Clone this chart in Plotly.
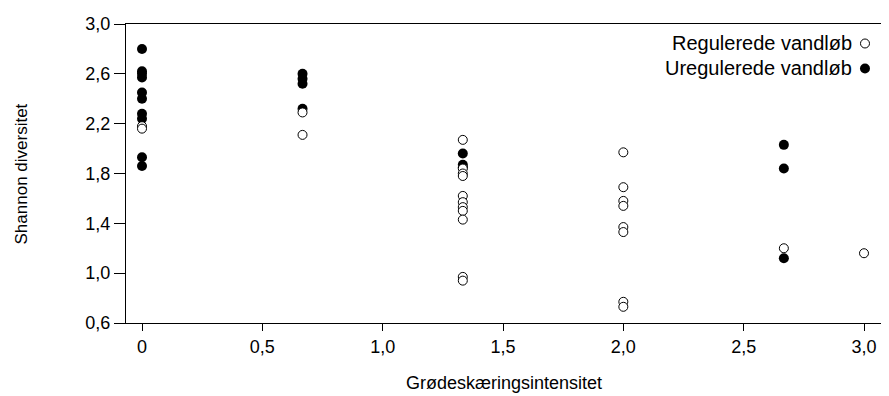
import plotly.graph_objects as go

# ---- data ----
reg_x = [0, 0,
         0.667, 0.667,
         1.333, 1.333, 1.333, 1.333, 1.333, 1.333, 1.333, 1.333, 1.333, 1.333, 1.333,
         2.0, 2.0, 2.0, 2.0, 2.0, 2.0, 2.0, 2.0,
         2.667,
         3.0]
reg_y = [2.18, 2.16,
         2.29, 2.11,
         2.07, 1.84, 1.80, 1.78, 1.62, 1.57, 1.53, 1.50, 1.43, 0.97, 0.94,
         1.97, 1.69, 1.58, 1.54, 1.37, 1.33, 0.77, 0.73,
         1.20,
         1.16]

ureg_x = [0, 0, 0, 0, 0, 0, 0, 0, 0, 0,
          0.667, 0.667, 0.667, 0.667,
          1.333, 1.333, 1.333,
          2.667, 2.667, 2.667]
ureg_y = [2.80, 2.62, 2.60, 2.57, 2.45, 2.40, 2.28, 2.24, 1.93, 1.86,
          2.60, 2.56, 2.52, 2.32,
          1.96, 1.87, 1.85,
          2.03, 1.84, 1.12]

x_tickvals = [0, 0.5, 1.0, 1.5, 2.0, 2.5, 3.0]
x_ticktext = ["0", "0,5", "1,0", "1,5", "2,0", "2,5", "3,0"]
y_tickvals = [0.6, 1.0, 1.4, 1.8, 2.2, 2.6, 3.0]
y_ticktext = ["0,6", "1,0", "1,4", "1,8", "2,2", "2,6", "3,0"]

series_names = ["Regulerede vandløb", "Uregulerede vandløb"]
x_title = "Grødeskæringsintensitet"
y_title = "Shannon diversitet"

FONT = "Liberation Sans, Arial, sans-serif"

fig = go.Figure()
fig.add_trace(go.Scatter(
    x=ureg_x, y=ureg_y, mode="markers", name=series_names[1],
    marker=dict(symbol="circle", size=10, color="black",
                line=dict(color="black", width=0)),
    showlegend=False))
fig.add_trace(go.Scatter(
    x=reg_x, y=reg_y, mode="markers", name=series_names[0],
    marker=dict(symbol="circle", size=9, color="white",
                line=dict(color="black", width=1)),
    showlegend=False))

# custom legend: text followed by a marker on the right
leg_text_x = 0.963
leg_mark_x = 0.9775
leg_y = [0.9348, 0.8512]
for name, y in zip(series_names, leg_y):
    fig.add_annotation(x=leg_text_x, y=y, xref="paper", yref="paper",
                       text=name, showarrow=False, xanchor="right",
                       yanchor="middle", font=dict(size=20, color="black", family=FONT))
fig.add_shape(type="circle", xref="paper", yref="paper",
              xsizemode="pixel", ysizemode="pixel",
              xanchor=leg_mark_x, yanchor=leg_y[0],
              x0=-4.5, x1=4.5, y0=-4.5, y1=4.5,
              line=dict(color="black", width=1), fillcolor="white")
fig.add_shape(type="circle", xref="paper", yref="paper",
              xsizemode="pixel", ysizemode="pixel",
              xanchor=leg_mark_x, yanchor=leg_y[1],
              x0=-5, x1=5, y0=-5, y1=5,
              line=dict(color="black", width=0), fillcolor="black")

# axis titles
fig.add_annotation(x=0.5, y=-0.2007, xref="paper", yref="paper",
                   text=x_title, showarrow=False, xanchor="center", yanchor="middle",
                   font=dict(size=18, color="black", family=FONT))
fig.add_annotation(x=-0.1376, y=0.5, xref="paper", yref="paper",
                   text=y_title, showarrow=False, xanchor="center", yanchor="middle",
                   textangle=-90, font=dict(size=17, color="black", family=FONT))

fig.update_layout(
    width=881, height=388,
    margin=dict(l=118, r=7, t=16, b=73),
    plot_bgcolor="white", paper_bgcolor="white",
    font=dict(family=FONT, size=18, color="black"),
    xaxis=dict(range=[-0.0665, 3.0748], tickvals=x_tickvals, ticktext=x_ticktext,
               showgrid=False, zeroline=False, showline=True, mirror=True,
               linecolor="black", linewidth=1, ticks="outside", ticklen=7,
               tickcolor="black", tickwidth=1),
    yaxis=dict(range=[0.6, 3.0], tickvals=y_tickvals, ticktext=y_ticktext,
               showgrid=False, zeroline=False, showline=True, mirror=True,
               linecolor="black", linewidth=1, ticks="outside", ticklen=11,
               tickcolor="black", tickwidth=1),
)

fig.write_html("out.html")
